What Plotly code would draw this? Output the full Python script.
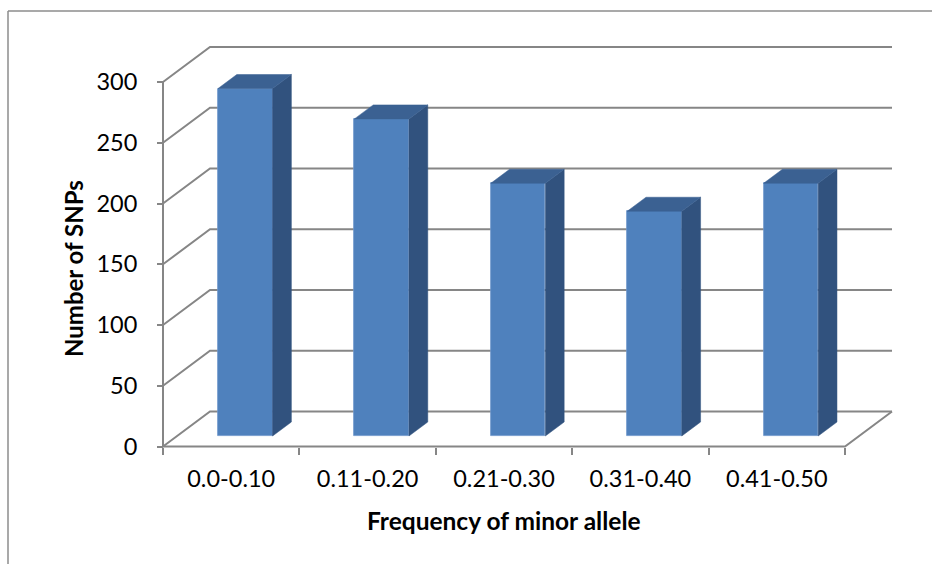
import plotly.graph_objects as go

# ---- data ----
categories = ["0.0-0.10", "0.11-0.20", "0.21-0.30", "0.31-0.40", "0.41-0.50"]
snp_counts = [286, 261, 208, 185, 208]
y_ticks = [0, 50, 100, 150, 200, 250, 300]

# ---- 3D-look geometry (in axis units) ----
W, H = 932, 564
px_per_cat = 136.4
px_per_unit = 1.215
origin_px = (163, 446.5)
depth_px = (47, -35)
DX = depth_px[0] / px_per_cat
DY = -depth_px[1] / px_per_unit
f1, f2 = 0.3, 0.7
bar_w = 0.4
n = len(categories)
ymax = y_ticks[-1]

xr = [-origin_px[0] / px_per_cat, (W - origin_px[0]) / px_per_cat]
yr = [-(H - origin_px[1]) / px_per_unit, origin_px[1] / px_per_unit]

FRONT = "#4F81BD"
TOP = "#3B6192"
SIDE = "#31527E"
GRID = "#868686"

fig = go.Figure()

# back-wall gridlines and floor
shapes = []
for v in y_ticks:
    shapes.append(dict(type="path", xref="x", yref="y", layer="below",
                       path=f"M 0 {v} L {DX} {v+DY} L {n+DX} {v+DY}",
                       line=dict(color=GRID, width=2)))
shapes.append(dict(type="path", xref="x", yref="y", layer="below",
                   path=f"M 0 0 L {n} 0 L {n+DX} {DY}",
                   line=dict(color=GRID, width=2)))
shapes.append(dict(type="line", xref="x", yref="y", layer="below",
                   x0=0, x1=0, y0=0, y1=ymax, line=dict(color=GRID, width=2)))
# chart border (left and top only visible)
shapes.append(dict(type="line", xref="paper", yref="paper",
                   x0=8 / W, x1=8 / W, y0=1 - 11 / H, y1=-0.1, line=dict(color="#8C8C8C", width=1.5)))
shapes.append(dict(type="line", xref="paper", yref="paper",
                   x0=8 / W, x1=1.1, y0=1 - 11 / H, y1=1 - 11 / H, line=dict(color="#8C8C8C", width=1.5)))

centers = [i + 0.5 for i in range(n)]
base = f1 * DY
ddx = (f2 - f1) * DX
ddy = (f2 - f1) * DY

# front faces
fig.add_trace(go.Bar(x=[c + f1 * DX for c in centers], y=snp_counts, base=base,
                     width=bar_w, marker=dict(color=FRONT, line=dict(color="#6F97CB", width=0.8)),
                     hoverinfo="skip", showlegend=False))

for c, v in zip(centers, snp_counts):
    xl = c + f1 * DX - bar_w / 2
    xrt = c + f1 * DX + bar_w / 2
    top = base + v
    # side face
    fig.add_trace(go.Scatter(x=[xrt, xrt + ddx, xrt + ddx, xrt, xrt],
                             y=[base, base + ddy, top + ddy, top, base],
                             fill="toself", fillcolor=SIDE, mode="lines",
                             line=dict(color=SIDE, width=0.5), hoverinfo="skip", showlegend=False))
    # top face
    fig.add_trace(go.Scatter(x=[xl, xrt, xrt + ddx, xl + ddx, xl],
                             y=[top, top, top + ddy, top + ddy, top],
                             fill="toself", fillcolor=TOP, mode="lines",
                             line=dict(color=TOP, width=0.5), hoverinfo="skip", showlegend=False))

FONT = "Lato"
xpos = (0 - yr[0]) / (yr[1] - yr[0])
ypos = (0 - xr[0]) / (xr[1] - xr[0])

fig.update_layout(
    width=W, height=H, margin=dict(l=0, r=0, t=0, b=0),
    paper_bgcolor="white", plot_bgcolor="white",
    font=dict(family=FONT, size=23.5, color="#000000"),
    shapes=shapes, bargap=0,
    xaxis=dict(range=xr, showgrid=False, zeroline=False, showline=False,
               anchor="free", position=xpos,
               tickmode="array", tickvals=centers, ticktext=categories,
               ticks="", ticklabelstandoff=16,
               minor=dict(tickmode="array", tickvals=list(range(n + 1)), ticks="outside",
                          ticklen=7, tickcolor=GRID, tickwidth=2),
               fixedrange=True),
    yaxis=dict(range=yr, showgrid=False, zeroline=False, showline=False,
               anchor="free", position=ypos,
               tickmode="array", tickvals=y_ticks, ticks="outside", ticklen=6,
               tickcolor=GRID, tickwidth=2, ticklabelstandoff=15,
               fixedrange=True),
    annotations=[
        dict(text="<b>Number of SNPs</b>", xref="paper", yref="paper",
             x=73 / W, y=1 - 269 / H, textangle=-90, showarrow=False,
             xanchor="center", yanchor="middle",
             font=dict(family=FONT, size=24)),
        dict(text="<b>Frequency of minor allele</b>", xref="paper", yref="paper",
             x=504 / W, y=1 - 520 / H, showarrow=False,
             xanchor="center", yanchor="middle",
             font=dict(family=FONT, size=24.5)),
    ],
)

fig.write_html("out.html")
